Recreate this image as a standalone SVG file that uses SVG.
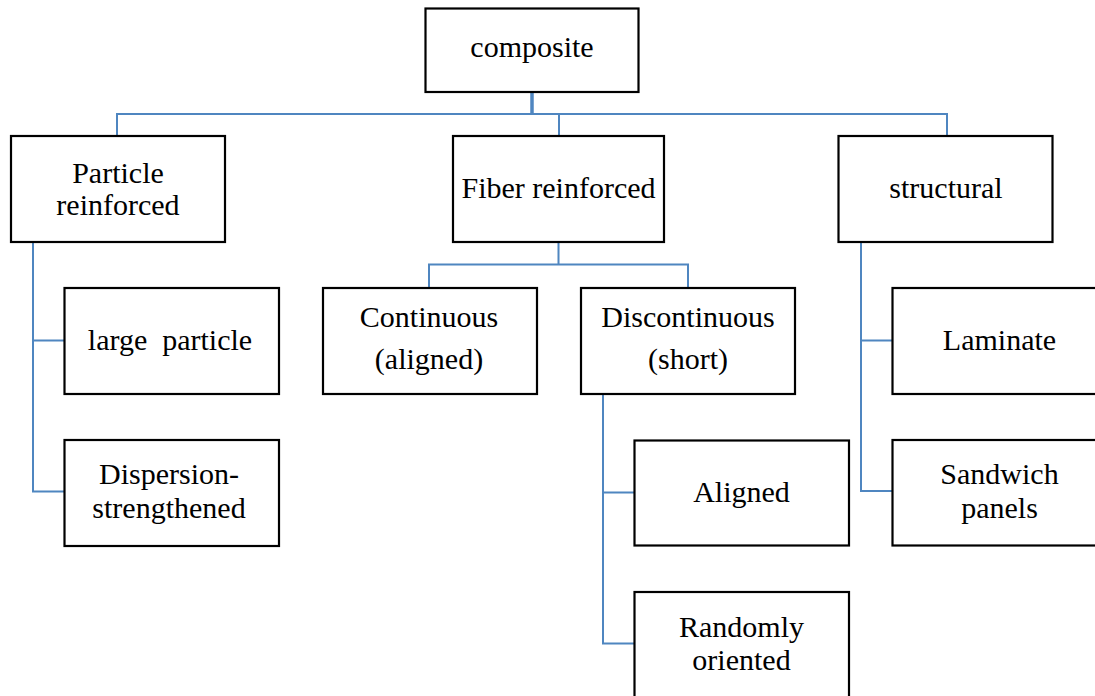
<svg xmlns="http://www.w3.org/2000/svg" width="1095" height="696" viewBox="0 0 1095 696">
<style>
.box{fill:#fff;stroke:#000;stroke-width:2.2}
.t{font-family:"Liberation Serif","Times New Roman",serif;font-size:30px;fill:#000;text-anchor:middle}
.c{fill:none;stroke:#4f86c0;stroke-width:2}
</style>
<rect width="1095" height="696" fill="#fff"/>
<g id="connectors">
<path class="c" d="M532 92V114" style="stroke-width:3.5"/>
<path class="c" d="M117 135V114H947V135M559 114V135"/>
<path class="c" d="M558.5 242V264.5M429 287V264.5H688V287"/>
<path class="c" d="M33 242V491.5H64M33 340.5H64"/>
<path class="c" d="M603 394V643.5H634M603 492.5H634"/>
<path class="c" d="M861 242V491H892M861 340.5H892"/>
</g>
<g id="composite"><rect class="box" x="425.5" y="8.5" width="213" height="83.5"/><text class="t" x="532" y="57">composite</text></g>
<g id="particle"><rect class="box" x="11" y="136" width="214" height="106"/><text class="t" x="118" y="182.5">Particle</text><text class="t" x="118" y="214.5">reinforced</text></g>
<g id="fiber"><rect class="box" x="453" y="136" width="211" height="106"/><text class="t" x="558.5" y="198">Fiber reinforced</text></g>
<g id="structural"><rect class="box" x="838.5" y="136" width="214" height="106"/><text class="t" x="946" y="198">structural</text></g>
<g id="large"><rect class="box" x="64.5" y="288" width="214.5" height="106"/><text class="t" x="170" y="350" xml:space="preserve">large  particle</text></g>
<g id="dispersion"><rect class="box" x="64.5" y="440" width="214.5" height="106"/><text class="t" x="169" y="484">Dispersion-</text><text class="t" x="169" y="518">strengthened</text></g>
<g id="continuous"><rect class="box" x="323" y="288" width="214" height="106"/><text class="t" x="429" y="327">Continuous</text><text class="t" x="429" y="369">(aligned)</text></g>
<g id="discontinuous"><rect class="box" x="581" y="288" width="214" height="106"/><text class="t" x="688" y="327">Discontinuous</text><text class="t" x="688" y="369">(short)</text></g>
<g id="aligned"><rect class="box" x="634.5" y="440.5" width="214.5" height="105"/><text class="t" x="741.5" y="501.5">Aligned</text></g>
<g id="randomly"><rect class="box" x="634.5" y="592" width="214.5" height="110"/><text class="t" x="741.5" y="636.5">Randomly</text><text class="t" x="741.5" y="670">oriented</text></g>
<g id="laminate"><rect class="box" x="892.5" y="288" width="214" height="106"/><text class="t" x="999.5" y="350">Laminate</text></g>
<g id="sandwich"><rect class="box" x="892.5" y="440" width="214" height="105.5"/><text class="t" x="999.5" y="483.5">Sandwich</text><text class="t" x="999.5" y="518">panels</text></g>
</svg>
